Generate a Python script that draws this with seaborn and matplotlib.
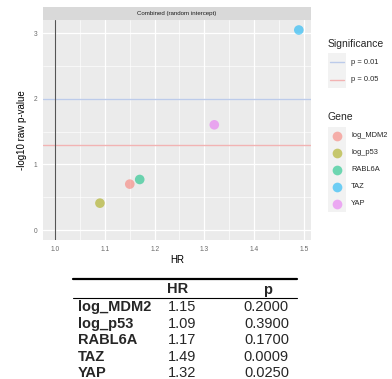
import numpy as np
import pandas as pd
import matplotlib
matplotlib.use("Agg")
import matplotlib.pyplot as plt
import seaborn as sns
from matplotlib.patches import Rectangle
from matplotlib.lines import Line2D

genes = ["log_MDM2", "log_p53", "RABL6A", "TAZ", "YAP"]
hr = [1.15, 1.09, 1.17, 1.49, 1.32]
pvals = [0.2000, 0.3900, 0.1700, 0.0009, 0.0250]
hr_labels = ["1.15", "1.09", "1.17", "1.49", "1.32"]
p_labels = ["0.2000", "0.3900", "0.1700", "0.0009", "0.0250"]
gene_colors = ["#F8766D", "#A3A500", "#00BF7D", "#00B0F6", "#E76BF3"]
sig_labels = ["p = 0.01", "p = 0.05"]
sig_levels = [0.01, 0.05]
sig_colors = ["#bccbea", "#f2b3b3"]
x_ticks = [1.0, 1.1, 1.2, 1.3, 1.4, 1.5]
y_ticks = [0, 1, 2, 3]

df = pd.DataFrame({"Gene": genes, "HR": hr, "p": pvals})
df["logp"] = -np.log10(df["p"])

sns.set_theme(style="white")
plt.rcParams["font.family"] = ["Liberation Sans", "DejaVu Sans"]

W, H = 392, 379
fig = plt.figure(figsize=(W / 100, H / 100), dpi=100)
fig.patch.set_facecolor("white")

def fx(x):
    return x / W

def fy(y):
    return 1 - y / H

# panel
L, R, T, B = 43, 311, 20, 240
ax = fig.add_axes([fx(L), fy(B), fx(R - L), (B - T) / H])
ax.set_facecolor("#EBEBEB")
for s in ax.spines.values():
    s.set_visible(False)

ax.set_xlim(0.9755, 1.5145)
ax.set_ylim(-0.152, 3.198)
ax.set_xticks(x_ticks)
ax.set_xticklabels([f"{t:.1f}" for t in x_ticks])
ax.set_yticks(y_ticks)
ax.set_xticks([1.05, 1.15, 1.25, 1.35, 1.45], minor=True)
ax.set_yticks([0.5, 1.5, 2.5], minor=True)
ax.grid(which="major", color="white", linewidth=0.9)
ax.grid(which="minor", color="white", linewidth=0.45)
ax.set_axisbelow(True)
ax.tick_params(axis="both", which="major", labelsize=4.8, colors="#6a6a6a",
               length=2.5, width=0.5, pad=1.5)
ax.tick_params(axis="both", which="minor", length=0)

for lvl, c in zip(sig_levels, sig_colors):
    ax.axhline(-np.log10(lvl), color=c, linewidth=1.0, zorder=1.5)
ax.axvline(1.0, color="#555555", linewidth=0.8, zorder=1.6)

sns.scatterplot(data=df, x="HR", y="logp", hue="Gene", palette=gene_colors,
                hue_order=genes, s=48, alpha=0.55, linewidth=0, legend=False,
                ax=ax, zorder=3)
ax.set_xlabel("HR", fontsize=7, color="black", labelpad=2)
ax.set_ylabel("-log10 raw p-value", fontsize=7, color="black", labelpad=5)

# strip
sax = fig.add_axes([fx(L), fy(T), fx(R - L), 13 / H])
sax.set_facecolor("#D9D9D9")
sax.set_xticks([]); sax.set_yticks([])
for s in sax.spines.values():
    s.set_visible(False)
sax.text(0.5, 0.5, "Combined (random intercept)", ha="center", va="center",
         fontsize=4.4, color="#1A1A1A", transform=sax.transAxes)

# legends
fig.text(fx(328), fy(44), "Significance", fontsize=7.5, va="center", ha="left")
fig.patches.append(Rectangle((fx(328), fy(88)), fx(18), 35 / H,
                             transform=fig.transFigure, facecolor="#F2F2F2",
                             edgecolor="none"))
for i, (lab, c) in enumerate(zip(sig_labels, sig_colors)):
    yy = 62 + 17.5 * i
    fig.lines.append(Line2D([fx(330), fx(344)], [fy(yy), fy(yy)],
                            transform=fig.transFigure, color=c, linewidth=1.0))
    fig.text(fx(351), fy(yy), lab, fontsize=5.4, va="center", ha="left")

fig.text(fx(328), fy(117), "Gene", fontsize=7.5, va="center", ha="left")
fig.patches.append(Rectangle((fx(328), fy(212)), fx(18), 85 / H,
                             transform=fig.transFigure, facecolor="#F2F2F2",
                             edgecolor="none"))
for i, (g, c) in enumerate(zip(genes, gene_colors)):
    yy = 136 + 16.9 * i
    fig.lines.append(Line2D([fx(337)], [fy(yy)], transform=fig.transFigure,
                            marker="o", markersize=7, color=c, alpha=0.55,
                            markeredgewidth=0, linestyle="none"))
    fig.text(fx(351), fy(yy), g, fontsize=5.4, va="center", ha="left")

# table
fig.lines.append(Line2D([fx(73), fx(297)], [fy(279), fy(279)],
                        transform=fig.transFigure, color="black", linewidth=1.6))
fig.lines.append(Line2D([fx(73), fx(297)], [fy(298), fy(298)],
                        transform=fig.transFigure, color="black", linewidth=0.8))
fig.text(fx(178), fy(289), "HR", fontsize=10.5, fontweight="bold",
         ha="center", va="center")
fig.text(fx(268), fy(290), "p", fontsize=10.5, fontweight="bold",
         ha="center", va="center")
for i, (g, h, p) in enumerate(zip(genes, hr_labels, p_labels)):
    yy = 307 + 16.6 * i
    fig.text(fx(78), fy(yy), g, fontsize=10.5, fontweight="bold",
             ha="left", va="center")
    fig.text(fx(168), fy(yy), h, fontsize=10.5, ha="left", va="center")
    fig.text(fx(289), fy(yy), p, fontsize=10.5, ha="right", va="center")

fig.savefig("out.png", dpi=100)
